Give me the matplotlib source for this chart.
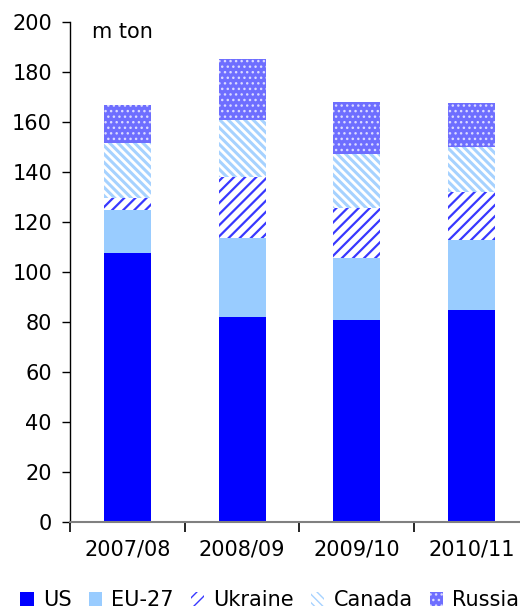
import numpy as np
import matplotlib
matplotlib.use('Agg')
from matplotlib import pyplot as plt, ticker

# grain exports of the main exporters, m ton
seasons = ['2007/08', '2008/09', '2009/10', '2010/11']
us = [107.5, 82.0, 80.5, 84.5]
eu27 = [17.0, 31.5, 25.0, 28.0]
ukraine = [5.0, 24.5, 20.0, 19.5]
canada = [22.0, 22.5, 21.5, 18.0]
russia = [15.0, 24.5, 21.0, 17.5]

plt.rcParams['font.family'] = ['DejaVu Sans']
plt.rcParams['font.size'] = 15

fig = plt.figure(figsize=(5.2, 6.09), dpi=100)
ax = fig.add_axes([70 / 520, 1 - 521.7 / 609, 458.7 / 520, 500 / 609])

x = np.arange(len(seasons))
width = 0.41
series = [
    ('US', us, dict(color='#0000FF', linewidth=0), 1.0),
    ('EU-27', eu27, dict(color='#99CCFF', linewidth=0), 1.0),
    ('Ukraine', ukraine, dict(facecolor='white', edgecolor='#3838FF', hatch='///', linewidth=0), 1.6),
    ('Canada', canada, dict(facecolor='white', edgecolor='#A6D2FF', hatch='\\\\\\\\', linewidth=0), 2.2),
    ('Russia', russia, dict(facecolor='#6E6EFF', edgecolor='#DADAFF', hatch='...', linewidth=0), 1.0),
]
bottom = np.zeros(len(seasons))
for name, vals, style, hatch_lw in series:
    with plt.rc_context({'hatch.linewidth': hatch_lw}):
        ax.bar(x, vals, width, bottom=bottom, label=name, **style)
    bottom += np.array(vals)

ax.set_xlim(-0.5, 3.5)
ax.set_ylim(0, 200)
ax.yaxis.set_major_locator(ticker.MultipleLocator(20))
ax.tick_params(axis='y', direction='out', length=6, width=1, pad=7, labelsize=15)

# boundaries get the tick marks, season labels sit between them
ax.set_xticks(np.arange(-0.5, 3.5, 1.0))
ax.set_xticklabels([])
ax.set_xticks(x, minor=True)
ax.set_xticklabels(seasons, minor=True)
ax.tick_params(axis='x', which='major', direction='out', length=7, width=1.2)
ax.tick_params(axis='x', which='minor', length=0, pad=13, labelsize=15)

for side in ('top', 'right'):
    ax.spines[side].set_visible(False)
ax.spines['bottom'].set_color('#808080')
ax.spines['bottom'].set_linewidth(1.5)
ax.spines['left'].set_linewidth(1)

ax.text(92 / 520, 1 - 38 / 609, 'm ton', transform=fig.transFigure, fontsize=15, va='baseline')
# title sits above the top edge, only its lowest strokes show
fig.text(118 / 520, 1 + 5 / 609, 'Main grain exporters: exports', fontsize=14,
         fontweight='bold', va='baseline', ha='left')

fig.legend(loc='center', bbox_to_anchor=(0.519, 0.015), ncol=5, frameon=False,
           handlelength=0.65, handleheight=0.65, handletextpad=0.45, columnspacing=0.8,
           borderpad=0, borderaxespad=0, fontsize=15)

fig.savefig('out.png', dpi=100)
